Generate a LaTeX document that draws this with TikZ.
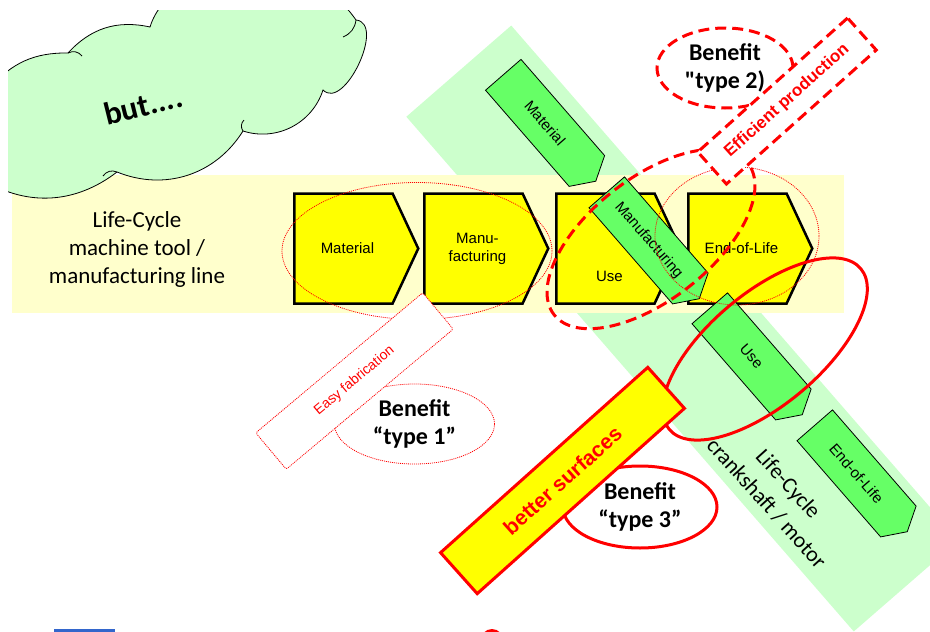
\documentclass[tikz,border=0pt]{standalone}
\usepackage{fontspec}
\setmainfont{Carlito}[Ligatures=TeXOff]
\newfontfamily\arialfont{Liberation Sans}
\usetikzlibrary{shapes.geometric,shapes.symbols}

\definecolor{lcyellow}{HTML}{FFFF00}
\definecolor{lcpale}{HTML}{FFFFCC}
\definecolor{lcmint}{HTML}{CCFFCC}
\definecolor{lcgreen}{HTML}{66FF66}
\definecolor{lcred}{HTML}{FF0000}
\definecolor{lcblue}{HTML}{3366CC}

\newcommand\stepfont{\arialfont\fontsize{15}{18}\selectfont}

\tikzset{
  ybox/.style={signal, signal to=east, signal pointer angle=130, draw=black, line width=2.5pt,
    fill=lcyellow, minimum width=124pt, minimum height=110pt, inner sep=0pt, anchor=west,
    font=\stepfont, align=center},
  gbox/.style={signal, signal to=east, signal pointer angle=120, draw=black, line width=0.8pt,
    fill=lcgreen, minimum width=141pt, minimum height=47pt, inner sep=0pt, anchor=west,
    rotate=-49, font=\stepfont},
  finedot/.style={draw=lcred, line width=0.8pt, dash pattern=on 1pt off 1pt},
  thickdash/.style={draw=lcred, line width=3pt, dash pattern=on 11pt off 6pt},
  thickline/.style={draw=lcred, line width=3pt},
  oval/.style={ellipse, inner sep=0pt},
  benefit/.style={oval, align=center, font=\bfseries\fontsize{24}{28}\selectfont},
  tagbox/.style={rectangle, inner sep=0pt, fill=white, text=lcred},
}

\begin{document}
\begin{tikzpicture}[x=1pt, y=-1pt]
\useasboundingbox (0,0) rectangle (930,632);
\clip (8,10) rectangle (930,632);

\node[fill=lcmint, rotate=-49, minimum width=682pt, minimum height=139pt] (band) at (682.5,328.5) {};
\node[fill=lcpale, minimum width=832pt, minimum height=138pt, anchor=north west] (strip) at (12,175) {};

% cloud
\draw[line width=0.8pt, fill=lcmint] (-30,160) to[bend left=50] (-10,88) to[bend left=25] (68,53)
  to[bend left=30] (150,27) to[bend left=45] (230,-15) to[bend left=40] (356,20)
  to[bend left=110] (323,90) to[bend left=45] (243,131) to[bend left=40] (117,172)
  to[bend left=35] (-20,178) to[bend left=50] (-30,160) -- cycle;
\draw[line width=0.8pt] (68,53) to[bend left=40] (82,56) (117,172) to[bend right=40] (103,176)
  (243,131) to[bend left=40] (244,120) (343,37) to[bend right=30] (356,20);
\node[rotate=14, font=\bfseries\fontsize{32}{38}\selectfont] (but) at (143,105) {but....};

\node[align=center, font=\fontsize{23}{28}\selectfont] (lcmt) at (137,249)
  {Life-Cycle\\machine tool /\\manufacturing line};

\node[ybox] (ymat) at (293,248.5) {\hspace*{8pt}Material};
\node[ybox] (yman) at (423,248.5) {\hspace*{8pt}Manu-\\\hspace*{8pt}facturing};
\node[ybox, label={[font=\stepfont, xshift=4pt, yshift=-28pt]center:Use}] (yuse) at (555,248.5) {};
\node[ybox] (yeol) at (687,248.5) {\hspace*{8pt}End-of-Life};

\node[gbox] (gmat) at (503,74.5) {Material};
\node[gbox] (gman) at (606.5,192) {Manufacturing};
\node[gbox] (guse) at (709.5,308) {Use};
\node[gbox] (geol) at (814.5,425) {End-of-Life};

\node[align=center, rotate=-48, font=\fontsize{22}{29}\selectfont] (lccs) at (777.5,493.5)
  {Life-Cycle\\crankshaft / motor};

\node[oval, finedot, minimum width=270pt, minimum height=137pt] (early) at (417,251) {};
\node[oval, finedot, minimum width=164pt, minimum height=138pt] (late) at (737,236) {};
\node[benefit, finedot, minimum width=160pt, minimum height=80pt] (ben1) at (414.5,424) {Benefit\\“type 1”};
\node[tagbox, finedot, rotate=40, rounded corners=2pt, minimum width=218pt, minimum height=47.5pt,
      font=\arialfont\fontsize{14}{17}\selectfont] (easy) at (354.5,381) {Easy fabrication};

\node[oval, thickdash, rotate=38, minimum width=246pt, minimum height=122pt] (prod) at (651,239) {};
\node[benefit, thickdash, minimum width=136pt, minimum height=80pt] (ben2) at (725,68) {Benefit\\"type 2)};
\node[tagbox, thickdash, rotate=41.8, minimum width=201pt, minimum height=43pt,
      font=\arialfont\bfseries\fontsize{17}{20}\selectfont] (eff) at (787,101) {Efficient production};

\node[oval, thickline, rotate=40, minimum width=250pt, minimum height=112pt] (usage) at (765,349) {};
\node[benefit, thickline, minimum width=154pt, minimum height=82pt] (ben3) at (640,507) {Benefit\\“type 3”};
\node[tagbox, thickline, fill=lcyellow, rotate=41.8, minimum width=278pt, minimum height=55pt,
      font=\arialfont\bfseries\fontsize{21}{25}\selectfont] (surf) at (562.5,480.5) {better surfaces};

\fill[lcblue] (54,629) rectangle (115,640);
\fill[lcred] (492,642) ellipse [x radius=12pt, y radius=13pt];
\end{tikzpicture}
\end{document}
